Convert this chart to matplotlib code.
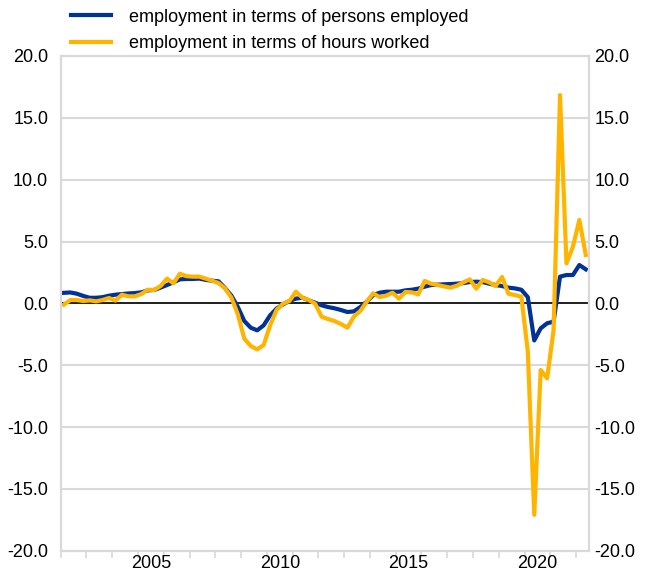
import numpy as np
import matplotlib.pyplot as plt

plt.rcParams['font.family'] = ['Liberation Sans', 'DejaVu Sans']

# quarterly data 2002Q1 - 2022Q2 (year-on-year % changes)
start_year = 2002
persons = [0.85, 0.88, 0.78, 0.6, 0.45, 0.45, 0.5, 0.62, 0.7, 0.75, 0.8, 0.83,
           0.89, 1.05, 1.08, 1.27, 1.48, 1.7, 1.94, 1.97, 1.97, 2.0, 1.9, 1.83,
           1.78, 1.24, 0.62, -0.3, -1.43, -1.97, -2.18, -1.78, -0.97, -0.43, -0.08, 0.19,
           0.38, 0.46, 0.24, 0.05, -0.16, -0.3, -0.4, -0.54, -0.7, -0.65, -0.3, 0.13,
           0.67, 0.86, 0.94, 0.94, 0.94, 1.05, 1.1, 1.19, 1.35, 1.48, 1.51, 1.54,
           1.56, 1.59, 1.64, 1.72, 1.75, 1.72, 1.59, 1.48, 1.4, 1.27, 1.21, 1.1,
           0.5, -3.0, -2.02, -1.61, -1.48, 2.16, 2.29, 2.29, 3.1, 2.75]
hours = [-0.1, 0.27, 0.27, 0.19, 0.24, 0.16, 0.27, 0.43, 0.22, 0.7, 0.57, 0.57,
         0.75, 1.1, 1.08, 1.4, 2.0, 1.62, 2.4, 2.2, 2.16, 2.16, 2.0, 1.83,
         1.64, 1.21, 0.46, -0.9, -2.86, -3.45, -3.72, -3.37, -1.78, -0.54, -0.03, 0.19,
         0.94, 0.46, 0.27, -0.03, -1.08, -1.27, -1.43, -1.67, -1.97, -1.08, -0.62, 0.13,
         0.81, 0.51, 0.62, 0.86, 0.38, 0.92, 0.89, 0.73, 1.81, 1.59, 1.48, 1.37,
         1.27, 1.43, 1.7, 1.94, 1.19, 1.89, 1.7, 1.4, 2.13, 0.78, 0.67, 0.54,
         -3.9, -17.1, -5.39, -6.06, -2.15, 16.84, 3.23, 4.58, 6.74, 3.91]
labels = ['employment in terms of persons employed',
          'employment in terms of hours worked']
year_labels = ['2005', '2010', '2015', '2020']

x = start_year + (np.arange(len(persons)) + 0.5) / 4
yticks = np.arange(-20, 21, 5)
ytick_labels = [f'{v:.1f}' for v in yticks]

fig = plt.figure(figsize=(6.45, 5.73), dpi=100)
ax = fig.add_axes([0.0941, 0.0389, 0.8191, 0.8634])

blue = '#003299'
yellow = '#FFB400'
grid = '#D9D9D9'

ax.axhline(0, color='black', lw=1.2, zorder=2)
ax.plot(x, persons, color=blue, lw=3, label=labels[0], zorder=3)
ax.plot(x, hours, color=yellow, lw=3, label=labels[1], zorder=4)

ax.set_xlim(2002, 2022.5)
ax.set_ylim(-20, 20)
ax.set_yticks(yticks)
ax.set_yticklabels(ytick_labels)
ax.yaxis.grid(True, color=grid, lw=1.5, zorder=0)
ax.set_axisbelow(True)

# year ticks as marks, labels centred mid-year
ax.set_xticks(np.arange(2002, 2023))
ax.set_xticklabels([])
ax.set_xticks([int(y) + 0.5 for y in year_labels], minor=True)
ax.set_xticklabels(year_labels, minor=True)
ax.tick_params(axis='x', which='major', length=5, color=grid, width=1.2)
ax.tick_params(axis='x', which='minor', length=0, labelsize=13, pad=3)
ax.tick_params(axis='y', length=0, labelsize=13, pad=9)

# right-hand axis with the same scale
ax2 = ax.twinx()
ax2.set_ylim(-20, 20)
ax2.set_yticks(yticks)
ax2.set_yticklabels(ytick_labels)
ax2.tick_params(axis='y', length=0, labelsize=13, pad=4)

for a in (ax, ax2):
    for s in a.spines.values():
        s.set_color(grid)
        s.set_linewidth(1.5)

fig.legend(loc='upper left', bbox_to_anchor=(0.105, 0.991), frameon=False,
           fontsize=13, handlelength=2.2, handletextpad=1.0, labelspacing=0.53,
           borderpad=0.2, borderaxespad=0)

fig.savefig('out.png', dpi=100)
